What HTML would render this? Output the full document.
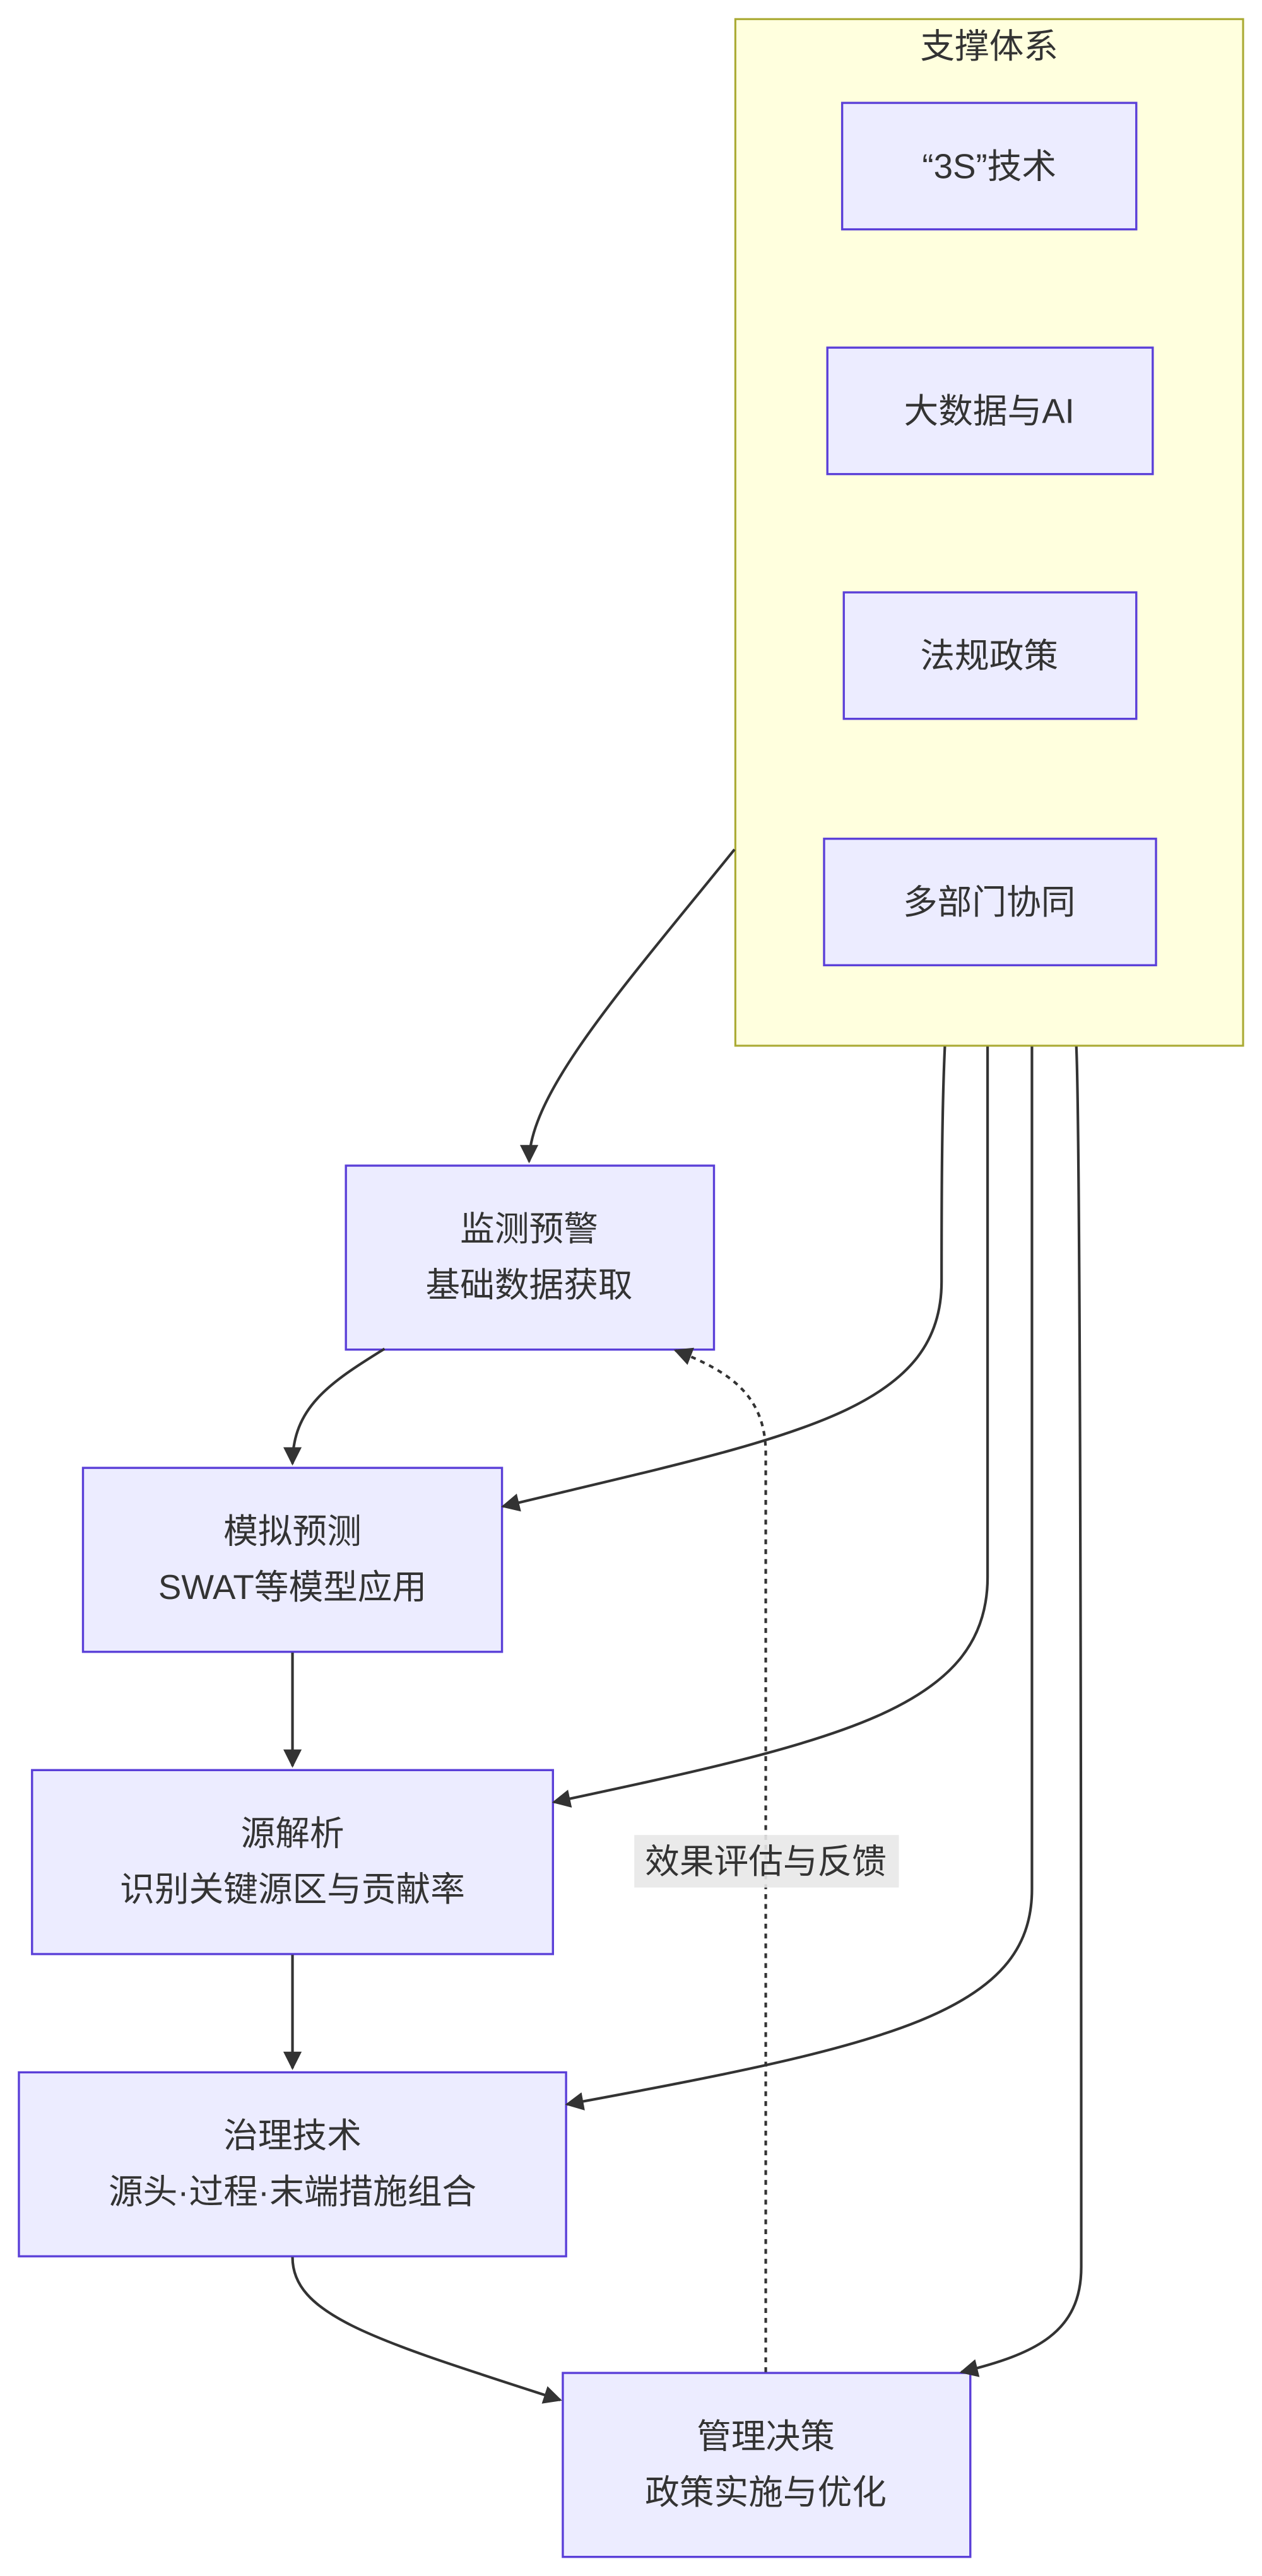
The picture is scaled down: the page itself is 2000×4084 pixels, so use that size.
<!DOCTYPE html>
<html><head><meta charset="utf-8"><style>
html,body{margin:0;padding:0;background:#fff;}
svg{display:block;}
text{font-family:"Liberation Sans","Noto Sans CJK SC",sans-serif;fill:#333;font-size:21px;text-anchor:middle;dominant-baseline:central;}
</style></head><body>
<svg width="2000" height="4084" viewBox="0 0 768 1568" xmlns="http://www.w3.org/2000/svg">
<defs><marker id="a" viewBox="0 0 10 10" refX="9" refY="5" markerWidth="7" markerHeight="7" orient="auto-start-reverse"><path d="M0,0 L10,5 L0,10 z" fill="#333"/></marker></defs>
<rect width="768" height="1568" fill="#fff"/>
<rect x="447.5" y="11.5" width="309" height="625" fill="#ffffde" stroke="#aaaa33" stroke-width="1.2"/>
<text x="602" y="28">支撑体系</text>
<g fill="#ececff" stroke="#9370db" stroke-width="1.3">
<rect x="512.5" y="62.5" width="179" height="77" stroke="#5a3fd8"/>
<rect x="503.5" y="211.5" width="198" height="77" stroke="#5a3fd8"/>
<rect x="513.5" y="360.5" width="178" height="77" stroke="#5a3fd8"/>
<rect x="501.5" y="510.5" width="202" height="77" stroke="#5a3fd8"/>
<rect x="210.5" y="709.5" width="224" height="112" stroke="#5a3fd8"/>
<rect x="50.5" y="893.5" width="255" height="112" stroke="#5a3fd8"/>
<rect x="19.5" y="1077.5" width="317" height="112" stroke="#5a3fd8"/>
<rect x="11.5" y="1261.5" width="333" height="112" stroke="#5a3fd8"/>
<rect x="342.5" y="1444.5" width="248" height="112" stroke="#5a3fd8"/>
</g>
<text x="602" y="101">“3S”技术</text>
<text x="602" y="250">大数据与AI</text>
<text x="602" y="399">法规政策</text>
<text x="602" y="549">多部门协同</text>
<text x="322" y="748">监测预警</text><text x="322" y="782">基础数据获取</text>
<text x="178" y="932">模拟预测</text><text x="178" y="966">SWAT等模型应用</text>
<text x="178" y="1116">源解析</text><text x="178" y="1150">识别关键源区与贡献率</text>
<text x="178" y="1300">治理技术</text><text x="178" y="1334">源头·过程·末端措施组合</text>
<text x="466" y="1483">管理决策</text><text x="466" y="1517">政策实施与优化</text>
<g fill="none" stroke="#333" stroke-width="1.6" marker-end="url(#a)">
<path d="M447,517 C380,600 322,665 322,707"/>
<path d="M575,637 C573,680 573,740 573,780 C573,860 480,875 306,917"/>
<path d="M601,637 L601,960 C601,1040 510,1060 337,1097"/>
<path d="M628,637 L628,1150 C628,1225 540,1245 345,1281"/>
<path d="M655,637 C658,700 658,1300 658,1380 C658,1420 630,1433 585,1444"/>
<path d="M234,821 C200,842 178,857 178,891"/>
<path d="M178,1006 L178,1075"/>
<path d="M178,1190 L178,1259"/>
<path d="M178,1374 C178,1410 230,1425 341,1461"/>
<path d="M466,1444 L466,885 C466,850 445,835 411,822" stroke-dasharray="3,3"/>
</g>
<rect x="386" y="1117" width="161" height="32" fill="#e8e8e8" opacity="0.9"/>
<text x="466" y="1133">效果评估与反馈</text>
</svg>
</body></html>
